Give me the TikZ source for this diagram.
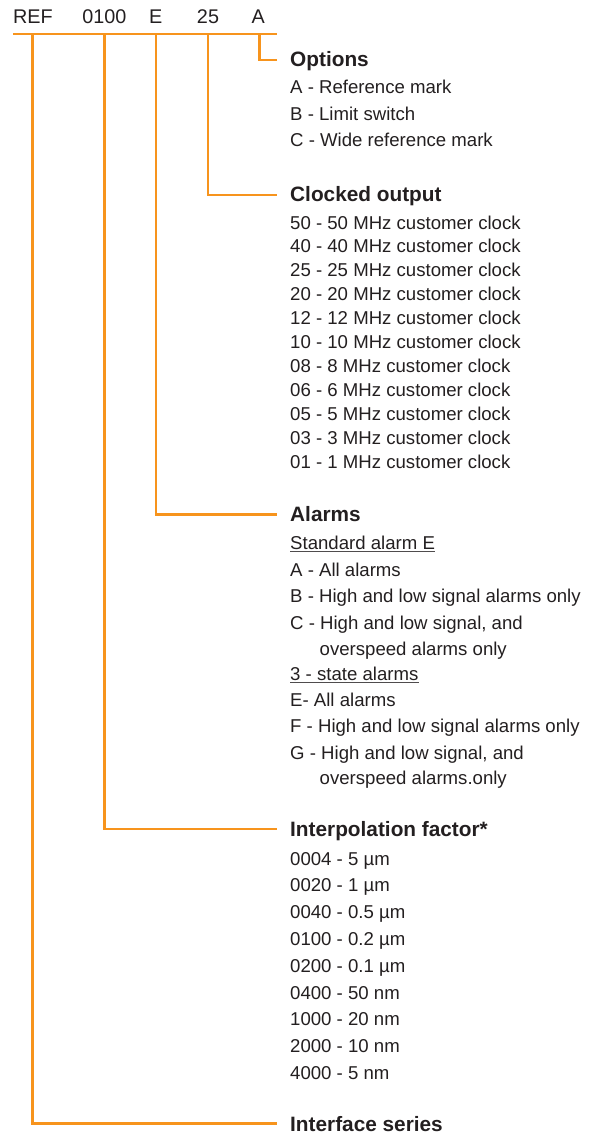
\documentclass[tikz,border=0pt]{standalone}
\usepackage{fontspec}
\setmainfont{Liberation Sans}
\definecolor{org}{HTML}{F7941D}
\definecolor{txt}{HTML}{231F20}
\begin{document}
\begin{tikzpicture}[x=1pt,y=-1pt,
  conn/.style={draw=org,line width=2.5pt,line join=miter},
  hd/.style={anchor=base west,inner sep=0pt,font=\fontsize{20.8}{24}\selectfont\bfseries,text=txt},
  it/.style={anchor=base west,inner sep=0pt,font=\fontsize{18.6}{22}\selectfont,text=txt},
  codetxt/.style={anchor=base,inner sep=0pt,font=\fontsize{19.8}{22}\selectfont,text=txt},
  uline/.style={draw=txt!80,line width=1pt}]
\useasboundingbox (0,0) rectangle (591,1134);

% header code
\node[codetxt] (cREF) at (32.8,24) {REF};
\node[codetxt] (c0100) at (104.3,24) {0100};
\node[codetxt] (cE) at (155.8,24) {E};
\node[codetxt] (c25) at (208,24) {25};
\node[codetxt] (cA) at (258.3,24) {A};

% bar and branch points
\coordinate (barL) at (13,34);
\coordinate (barR) at (277,34);
\coordinate (bREF) at (32.5,34);
\coordinate (b0100) at (104.3,34);
\coordinate (bE) at (156,34);
\coordinate (b25) at (207.8,34);
\coordinate (bA) at (259.3,34);
\coordinate (eOpt) at (277,60);
\coordinate (eClk) at (277,195);
\coordinate (eAlm) at (277,514.5);
\coordinate (eInt) at (277,829);
\coordinate (eIfc) at (277,1123.5);

\draw[conn] (barL) -- (barR);
\draw[conn] (bA) |- (eOpt);
\draw[conn] (b25) |- (eClk);
\draw[conn] (bE) |- (eAlm);
\draw[conn] (b0100) |- (eInt);
\draw[conn] (bREF) |- (eIfc);

% Options
\node[hd] (hOpt) at (290,67) {Options};
\node[it] (o1) at (290,94) {A - Reference mark};
\node[it] (o2) at (290,120.5) {B - Limit switch};
\node[it] (o3) at (290,147) {C - Wide reference mark};

% Clocked output
\node[hd] (hClk) at (290,201.7) {Clocked output};
\foreach \t [count=\i from 0] in {50 - 50 MHz customer clock,40 - 40 MHz customer clock,25 - 25 MHz customer clock,20 - 20 MHz customer clock,12 - 12 MHz customer clock,10 - 10 MHz customer clock,08 - 8 MHz customer clock,06 - 6 MHz customer clock,05 - 5 MHz customer clock,03 - 3 MHz customer clock,01 - 1 MHz customer clock}
  \node[it] (clk\i) at (290,229+23.93*\i) {\t};

% Alarms
\node[hd] (hAlm) at (290,521.7) {Alarms};
\node[it] (aStd) at (290,549.3) {Standard alarm E};
\draw[uline] ([yshift=-2.2pt]aStd.base west) -- ([yshift=-2.2pt]aStd.base east);
\node[it] (aA) at (290,576) {A - All alarms};
\node[it] (aB) at (290,602.7) {B - High and low signal alarms only};
\node[it] (aC) at (290,629) {C - High and low signal, and};
\node[it] (aC2) at (319.5,655) {overspeed alarms only};
\node[it] (a3s) at (290,680) {3 - state alarms};
\draw[uline] ([yshift=-2.2pt]a3s.base west) -- ([yshift=-2.2pt]a3s.base east);
\node[it] (aE) at (290,706) {E- All alarms};
\node[it] (aF) at (290,732.7) {F - High and low signal alarms only};
\node[it] (aG) at (290,759.3) {G - High and low signal, and};
\node[it] (aG2) at (319.5,784.5) {overspeed alarms.only};

% Interpolation factor
\node[hd] (hInt) at (290,836.7) {Interpolation factor*};
\foreach \t [count=\i from 0] in {0004 - 5 µm,0020 - 1 µm,0040 - 0.5 µm,0100 - 0.2 µm,0200 - 0.1 µm,0400 - 50 nm,1000 - 20 nm,2000 - 10 nm,4000 - 5 nm}
  \node[it] (int\i) at (290,865+26.8*\i) {\t};

% Interface series
\node[hd] (hIfc) at (290,1131.7) {Interface series};
\end{tikzpicture}
\end{document}
